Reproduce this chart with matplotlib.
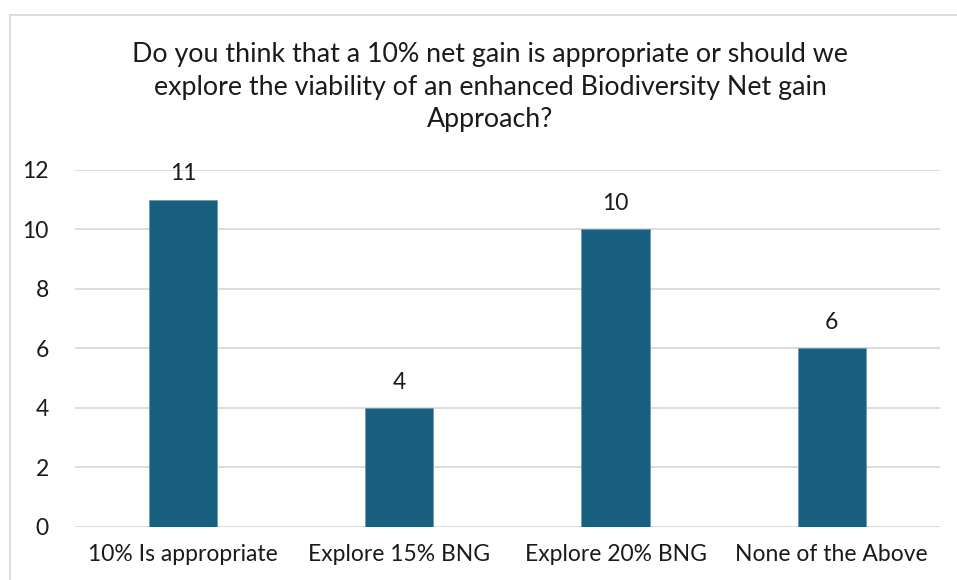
import matplotlib.pyplot as plt
from matplotlib.patches import Rectangle

categories = ['10% Is appropriate', 'Explore 15% BNG', 'Explore 20% BNG', 'None of the Above']
responses = [11, 4, 10, 6]
yticks = [0, 2, 4, 6, 8, 10, 12]

plt.rcParams['font.family'] = ['Lato', 'DejaVu Sans']

fig = plt.figure(figsize=(9.57, 5.80), dpi=100)
ax = fig.add_axes([0.0784, 0.0914, 0.9036, 0.6156])

# chart frame, cut off at the right and bottom
fig.patches.append(Rectangle((10 / 957, -0.1), 2, 1 - 15 / 580 + 0.1,
                             transform=fig.transFigure, fill=False,
                             edgecolor='#d9d9d9', linewidth=1.3))

x = range(len(categories))
bars = ax.bar(x, responses, width=0.315, color='#185f80',
              edgecolor='#6b9ab0', linewidth=0.6, zorder=3)

for b, v in zip(bars, responses):
    ax.annotate(str(v), (b.get_x() + b.get_width() / 2, v),
                xytext=(0, 11), textcoords='offset points',
                ha='center', va='bottom', fontsize=16.5, color='#1a1a1a')

ax.set_xlim(-0.5, 3.5)
ax.set_ylim(0, 12)
ax.set_yticks(yticks)
ax.set_xticks(list(x))
ax.set_xticklabels(categories)
ax.tick_params(axis='both', length=0, labelsize=16.5, colors='#1a1a1a')
ax.tick_params(axis='y', pad=19)
ax.tick_params(axis='x', pad=12)
ax.grid(axis='y', color='#d9d9d9', linewidth=1.3, zorder=0)
for s in ax.spines.values():
    s.set_visible(False)

fig.text(0.512, 1 - 87 / 580,
         'Do you think that a 10% net gain is appropriate or should we\n'
         'explore the viability of an enhanced Biodiversity Net gain\n'
         'Approach?',
         ha='center', va='center', fontsize=19.3, color='#1a1a1a',
         linespacing=1.38)

fig.savefig('out.png', dpi=100)
